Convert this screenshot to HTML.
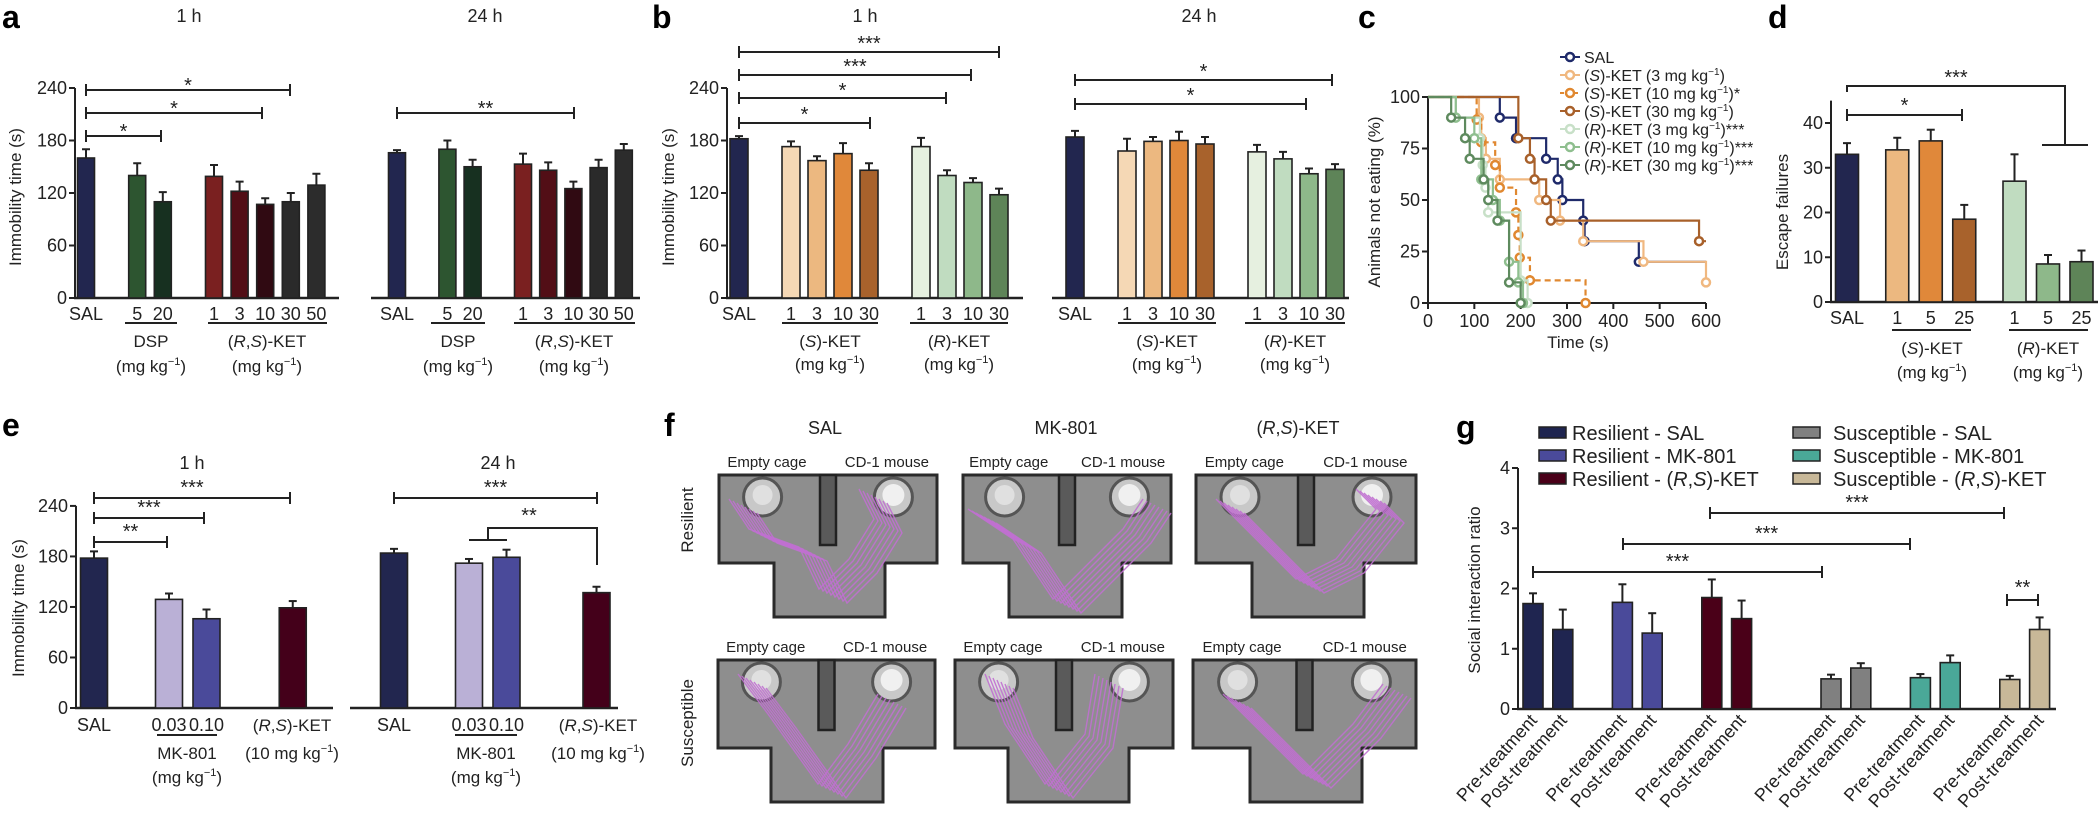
<!DOCTYPE html>
<html><head><meta charset="utf-8"><style>
html,body{margin:0;padding:0;background:#fff}
svg{display:block;font-family:"Liberation Sans",sans-serif}
</style></head><body>
<svg id="fig" width="2100" height="820" viewBox="0 0 2100 820" xmlns="http://www.w3.org/2000/svg">
<g id="static" fill="#222" font-size="17">
<g font-weight="bold" font-size="32" fill="#000">
<text x="2" y="28">a</text>
<text x="652" y="28">b</text>
<text x="1358" y="28">c</text>
<text x="1768" y="28">d</text>
<text x="2" y="436">e</text>
<text x="664" y="436">f</text>
<text x="1456" y="438">g</text>
</g>
<g text-anchor="middle" font-size="18">
<text x="189" y="22">1 h</text>
<text x="485" y="22">24 h</text>
<text x="865" y="22">1 h</text>
<text x="1199" y="22">24 h</text>
<text x="192" y="469">1 h</text>
<text x="498" y="469">24 h</text>
<text x="825" y="434">SAL</text>
<text x="1066" y="434">MK-801</text>
<text x="1298" y="434">(<tspan font-style="italic">R</tspan>,<tspan font-style="italic">S</tspan>)-KET</text>
</g>
<g text-anchor="middle" font-size="17">
<text transform="translate(21,197) rotate(-90)">Immobility time (s)</text>
<text transform="translate(674,197) rotate(-90)">Immobility time (s)</text>
<text transform="translate(1380,202) rotate(-90)">Animals not eating (%)</text>
<text transform="translate(1788,212) rotate(-90)">Escape failures</text>
<text transform="translate(24,608) rotate(-90)">Immobility time (s)</text>
<text transform="translate(1480,590) rotate(-90)">Social interaction ratio</text>
<text transform="translate(693,520) rotate(-90)">Resilient</text>
<text transform="translate(693,723) rotate(-90)">Susceptible</text>
<text x="1578" y="348">Time (s)</text>
</g>
<g text-anchor="middle" font-size="17">
<line x1="125" y1="323" x2="177" y2="323" stroke="#222" stroke-width="2"/>
<line x1="208" y1="323" x2="327" y2="323" stroke="#222" stroke-width="2"/>
<text x="151" y="347">DSP</text><text x="151" y="372">(mg kg<tspan font-size="11" dy="-7">−1</tspan><tspan dy="7">)</tspan></text>
<text x="267" y="347">(<tspan font-style="italic">R</tspan>,<tspan font-style="italic">S</tspan>)-KET</text><text x="267" y="372">(mg kg<tspan font-size="11" dy="-7">−1</tspan><tspan dy="7">)</tspan></text>
<line x1="431" y1="323" x2="485" y2="323" stroke="#222" stroke-width="2"/>
<line x1="514" y1="323" x2="635" y2="323" stroke="#222" stroke-width="2"/>
<text x="458" y="347">DSP</text><text x="458" y="372">(mg kg<tspan font-size="11" dy="-7">−1</tspan><tspan dy="7">)</tspan></text>
<text x="574" y="347">(<tspan font-style="italic">R</tspan>,<tspan font-style="italic">S</tspan>)-KET</text><text x="574" y="372">(mg kg<tspan font-size="11" dy="-7">−1</tspan><tspan dy="7">)</tspan></text>
<line x1="782" y1="323" x2="878" y2="323" stroke="#222" stroke-width="2"/>
<line x1="910" y1="323" x2="1008" y2="323" stroke="#222" stroke-width="2"/>
<text x="830" y="347">(<tspan font-style="italic">S</tspan>)-KET</text><text x="830" y="370">(mg kg<tspan font-size="11" dy="-7">−1</tspan><tspan dy="7">)</tspan></text>
<text x="959" y="347">(<tspan font-style="italic">R</tspan>)-KET</text><text x="959" y="370">(mg kg<tspan font-size="11" dy="-7">−1</tspan><tspan dy="7">)</tspan></text>
<line x1="1118" y1="323" x2="1216" y2="323" stroke="#222" stroke-width="2"/>
<line x1="1245" y1="323" x2="1345" y2="323" stroke="#222" stroke-width="2"/>
<text x="1167" y="347">(<tspan font-style="italic">S</tspan>)-KET</text><text x="1167" y="370">(mg kg<tspan font-size="11" dy="-7">−1</tspan><tspan dy="7">)</tspan></text>
<text x="1295" y="347">(<tspan font-style="italic">R</tspan>)-KET</text><text x="1295" y="370">(mg kg<tspan font-size="11" dy="-7">−1</tspan><tspan dy="7">)</tspan></text>
<line x1="1892" y1="330" x2="1971" y2="330" stroke="#222" stroke-width="2"/>
<line x1="2009" y1="330" x2="2088" y2="330" stroke="#222" stroke-width="2"/>
<text x="1932" y="354">(<tspan font-style="italic">S</tspan>)-KET</text><text x="1932" y="378">(mg kg<tspan font-size="11" dy="-7">−1</tspan><tspan dy="7">)</tspan></text>
<text x="2048" y="354">(<tspan font-style="italic">R</tspan>)-KET</text><text x="2048" y="378">(mg kg<tspan font-size="11" dy="-7">−1</tspan><tspan dy="7">)</tspan></text>
<line x1="157" y1="735" x2="217" y2="735" stroke="#222" stroke-width="2"/>
<line x1="455" y1="735" x2="517" y2="735" stroke="#222" stroke-width="2"/>
<text x="187" y="759">MK-801</text><text x="187" y="783">(mg kg<tspan font-size="11" dy="-7">−1</tspan><tspan dy="7">)</tspan></text>
<text x="486" y="759">MK-801</text><text x="486" y="783">(mg kg<tspan font-size="11" dy="-7">−1</tspan><tspan dy="7">)</tspan></text>
<text x="292" y="731">(<tspan font-style="italic">R</tspan>,<tspan font-style="italic">S</tspan>)-KET</text><text x="292" y="759">(10 mg kg<tspan font-size="11" dy="-7">−1</tspan><tspan dy="7">)</tspan></text>
<text x="598" y="731">(<tspan font-style="italic">R</tspan>,<tspan font-style="italic">S</tspan>)-KET</text><text x="598" y="759">(10 mg kg<tspan font-size="11" dy="-7">−1</tspan><tspan dy="7">)</tspan></text>
</g>
<g font-size="20">
<rect x="1539" y="427" width="27" height="11" fill="#1f2550" stroke="#222" stroke-width="1.5"/><text x="1572" y="440">Resilient - SAL</text>
<rect x="1539" y="450" width="27" height="11" fill="#4a4a9a" stroke="#222" stroke-width="1.5"/><text x="1572" y="463">Resilient - MK-801</text>
<rect x="1539" y="473" width="27" height="11" fill="#4a0018" stroke="#222" stroke-width="1.5"/><text x="1572" y="486">Resilient - (<tspan font-style="italic">R</tspan>,<tspan font-style="italic">S</tspan>)-KET</text>
<rect x="1793" y="427" width="27" height="11" fill="#808080" stroke="#222" stroke-width="1.5"/><text x="1833" y="440">Susceptible - SAL</text>
<rect x="1793" y="450" width="27" height="11" fill="#4aa898" stroke="#222" stroke-width="1.5"/><text x="1833" y="463">Susceptible - MK-801</text>
<rect x="1793" y="473" width="27" height="11" fill="#c8b898" stroke="#222" stroke-width="1.5"/><text x="1833" y="486">Susceptible - (<tspan font-style="italic">R</tspan>,<tspan font-style="italic">S</tspan>)-KET</text>
</g>
</g>
<g id="panelF"></g>
<g id="charts"></g>
</svg>
<script>
var NS="http://www.w3.org/2000/svg";
var root=document.getElementById('charts');
function el(tag,attrs,parent){var e=document.createElementNS(NS,tag);for(var k in attrs)e.setAttribute(k,attrs[k]);(parent||root).appendChild(e);return e;}
function t(x,y,s,anchor,size,parent){var e=el('text',{x:x,y:y,'text-anchor':anchor||'middle','font-size':size||17,fill:'#222'},parent);e.textContent=s;return e;}

// ---------- DATA ----------
var aCats=["SAL","5","20","1","3","10","30","50"];
var a1hVals=[160,140,110,139,122,107,110,129];
var a1hErr=[10,14,11,13,11,7,10,13];
var a24hVals=[166,170,150,153,146,125,149,169];
var a24hErr=[3,10,8,12,9,8,9,7];
var aCols=["#22264f","#2d5530","#173020","#7a2020","#520e16","#300a12","#2a2a2a","#2c2c2c"];
var bCats=["SAL","1","3","10","30","1","3","10","30"];
var b1hVals=[182,173,157,165,146,173,140,132,118];
var b1hErr=[3,6,5,12,8,10,6,5,7];
var b24hVals=[184,168,179,180,176,167,159,142,147];
var b24hErr=[7,14,5,10,8,8,8,6,6];
var bCols=["#22264f","#f5d8b5","#ecb880","#e0883a","#a8622c","#e6f0e0","#c0dcc0","#8eb88a","#5e8458"];
var dCats=["SAL","1","5","25","1","5","25"];
var dVals=[33,34,36,18.5,27,8.5,9];
var dErr=[2.5,2.7,2.5,3.2,6,2,2.5];
var dCols=["#22264f","#ecb880","#e0883a","#a8622c","#c0dcc0","#8eb88a","#5e8458"];
var eCats=["SAL","0.03","0.10",""];
var e1hVals=[178,129,106,119];
var e1hErr=[8,7,11,8];
var e24hVals=[184,172,179,137];
var e24hErr=[5,5,9,7];
var eCols=["#22264f","#bab0d6","#4a4a9a","#44001a"];
var gCats=["Pre-treatment","Post-treatment","Pre-treatment","Post-treatment","Pre-treatment","Post-treatment","Pre-treatment","Post-treatment","Pre-treatment","Post-treatment","Pre-treatment","Post-treatment"];
var gVals=[1.75,1.32,1.77,1.26,1.85,1.5,0.5,0.68,0.52,0.77,0.49,1.32];
var gErr=[0.17,0.33,0.3,0.33,0.3,0.3,0.07,0.08,0.06,0.12,0.06,0.2];
var gCols=["#1f2550","#1f2550","#4a4a9a","#4a4a9a","#4a0018","#4a0018","#808080","#808080","#4aa898","#4aa898","#c8b898","#c8b898"];
var abTicks=[0,60,120,180,240];
var dTicks=[0,10,20,30,40];
var gTicks=[0,1,2,3,4];
var cYTicks=[0,25,50,75,100];
var cXTicks=[0,100,200,300,400,500,600];
var cNames=["SAL","(S)-KET (3 mg kg-1)","(S)-KET (10 mg kg-1)*","(S)-KET (30 mg kg-1)","(R)-KET (3 mg kg-1)***","(R)-KET (10 mg kg-1)***","(R)-KET (30 mg kg-1)***"];
var salT=[155,190,255,280,290,335,338,455], salS=[90,80,70,60,50,40,30,20];
var s3T=[110,115,125,155,240,285,335,465,600], s3S=[90,80,70,60,50,40,30,20,10];
var s10T=[105,115,145,155,190,195,198,220,340], s10S=[89,78,67,56,44,33,22,11,0];
var s30T=[195,220,230,255,265,585], s30S=[80,70,60,50,40,30];
var r3T=[60,112,118,124,130,200,215], r3S=[90,80,67,56,44,11,0];
var r10T=[60,100,115,140,155,175,195,205], r10S=[90,80,60,50,40,20,10,0];
var r30T=[50,80,90,120,130,150,175,200], r30S=[90,80,70,60,50,40,10,0];
var cCols=["#1f2a6a","#f0b880","#e08830","#a8602a","#c8e0c8","#8fbf8f","#5e8a5e"];

// ---------- helpers ----------
function slotScale(x0,step,slots){return function(i){return x0+step*slots[i];};}
function linScale(p0,ppu){return function(v){return p0-v*ppu;};}
function yAxis(x,yS,ticks,top,name){
  var g=el('g',{});
  
  
  el('line',{x1:x,y1:yS(0)+1,x2:x,y2:yS(top),stroke:'#222','stroke-width':2},g);
  ticks.forEach(function(v){
    el('line',{x1:x-6,y1:yS(v),x2:x,y2:yS(v),stroke:'#222','stroke-width':2},g);
    t(x-8,yS(v)+6,String(v),'end',18,g);
  });
}
function baseline(x1,x2,y,name){var l=el('line',{x1:x1,y1:y,x2:x2,y2:y,stroke:'#222','stroke-width':2.5});}
function bars(name,xS,yS,vals,errs,cols,w,cats,labY){
  var g=el('g',{});
  
  
  vals.forEach(function(v,i){
    var x=xS(i),y=yS(v),y0=yS(0),ye=yS(v+errs[i]);
    el('line',{x1:x,y1:y,x2:x,y2:ye,stroke:'#222','stroke-width':2},g);
    el('line',{x1:x-4,y1:ye,x2:x+4,y2:ye,stroke:'#222','stroke-width':2},g);
    var r=el('rect',{x:x-w/2,y:y,width:w,height:y0-y,fill:cols[i],stroke:'#222','stroke-width':1.6},g);
    
    
    if(cats&&cats[i])t(x,labY,cats[i],'middle',18,g);
  });
}
function bracket(x1,x2,y,label,ty){
  var g=el('g',{stroke:'#222','stroke-width':2,fill:'none'});
  
  
  el('line',{x1:x1,y1:y,x2:x2,y2:y},g);
  el('line',{x1:x1,y1:y-6,x2:x1,y2:y+6},g);
  el('line',{x1:x2,y1:y-6,x2:x2,y2:y+6},g);
  var s=t((x1+x2)/2,ty||y-4,label,'middle',20,g);s.setAttribute('stroke','none');
}

// ---------- panel a ----------
var aY=linScale(298,0.875);
var aX1=slotScale(86,25.6,[0,2,3,5,6,7,8,9]);
var aX2=slotScale(397,25.2,[0,2,3,5,6,7,8,9]);
yAxis(75,aY,abTicks,240,'a-y-axis');
baseline(74,339,aY(0),'a-1h-baseline');baseline(371,640,aY(0),'a-24h-baseline');
bars('a-1h',aX1,aY,a1hVals,a1hErr,aCols,17,aCats,320);
bars('a-24h',aX2,aY,a24hVals,a24hErr,aCols,17,aCats,320);
bracket(aX1(0),290,90,'*',92);bracket(aX1(0),262,113,'*',115);bracket(aX1(0),161,136,'*',138);
bracket(aX2(0),574,113,'**',115);

// ---------- panel b ----------
var bX1=slotScale(739,26,[0,2,3,4,5,7,8,9,10]);
var bX2=slotScale(1075,26,[0,2,3,4,5,7,8,9,10]);
yAxis(727,aY,abTicks,240,'b-y-axis');
baseline(726,1023,aY(0),'b-1h-baseline');baseline(1052,1349,aY(0),'b-24h-baseline');
bars('b-1h',bX1,aY,b1hVals,b1hErr,bCols,18,bCats,320);
bars('b-24h',bX2,aY,b24hVals,b24hErr,bCols,18,bCats,320);
bracket(bX1(0),999,52,'***',50);bracket(bX1(0),971,75,'***',73);bracket(bX1(0),946,98,'*',97);bracket(bX1(0),870,123,'*',121);
bracket(bX2(0),1332,80,'*',78);bracket(bX2(0),1306,104,'*',102);

// ---------- panel c ----------
var cX=function(v){return 1428+v*(278/600);};
var cY=linScale(303,2.06);
(function(){
  var g=el('g',{});
  
  
  el('line',{x1:cX(0),y1:cY(0),x2:cX(0),y2:cY(100),stroke:'#222','stroke-width':2},g);
  el('line',{x1:cX(0),y1:cY(0),x2:cX(600),y2:cY(0),stroke:'#222','stroke-width':2},g);
  cYTicks.forEach(function(v){el('line',{x1:cX(0)-6,y1:cY(v),x2:cX(0),y2:cY(v),stroke:'#222','stroke-width':2},g);t(cX(0)-8,cY(v)+6,String(v),'end',18,g);});
  cXTicks.forEach(function(v){el('line',{x1:cX(v),y1:cY(0),x2:cX(v),y2:cY(0)+6,stroke:'#222','stroke-width':2},g);t(cX(v),cY(0)+24,String(v),'middle',18,g);});
})();
var cSeries=[[salT,salS,600],[s3T,s3S,600],[s10T,s10S,340],[s30T,s30S,600],[r3T,r3S,215],[r10T,r10S,205],[r30T,r30S,200]];
cSeries.forEach(function(sr,k){
  var T=sr[0],S=sr[1],d='M'+cX(0)+','+cY(100),prev=100;
  T.forEach(function(tt,i){d+=' L'+cX(tt)+','+cY(prev)+' L'+cX(tt)+','+cY(S[i]);prev=S[i];});
  d+=' L'+cX(sr[2])+','+cY(prev);
  var p=el('path',{d:d,fill:'none',stroke:cCols[k],'stroke-width':2.2,'stroke-dasharray':k==2?'6,4':'none'});
  
  
  T.forEach(function(tt,i){var m=el('circle',{cx:cX(tt),cy:cY(S[i]),r:4,fill:'#fff',stroke:cCols[k],'stroke-width':2.5});
    
    });
  var lg=el('g',{});
  
  
  var ly=57+k*18;
  el('line',{x1:1560,y1:ly,x2:1580,y2:ly,stroke:cCols[k],'stroke-width':2,'stroke-dasharray':k==2?'4,3':'none'},lg);
  el('circle',{cx:1570,cy:ly,r:4,fill:'#fff',stroke:cCols[k],'stroke-width':2.5},lg);
  var nm=cNames[k],tx=el('text',{x:1584,y:ly+6,'font-size':16,fill:'#222'},lg);
  var mm=nm.match(/^\((S|R)\)(-KET \()(\d+ mg kg)-1\)(\**)$/);
  if(!mm){tx.textContent=nm;}else{
    tx.appendChild(document.createTextNode('('));
    var i1=el('tspan',{'font-style':'italic'},tx);i1.textContent=mm[1];
    tx.appendChild(document.createTextNode(')'+mm[2]+mm[3]));
    var sp=el('tspan',{'font-size':10,dy:-6},tx);sp.textContent='−1';
    var rest=el('tspan',{dy:6},tx);rest.textContent=')'+mm[4];
  }
});

// ---------- panel d ----------
var dY=linScale(302,4.475);
var dX=slotScale(1847,33.5,[0,1.5,2.5,3.5,5,6,7]);
yAxis(1831,dY,dTicks,45,'d-y-axis');
baseline(1830,2098,dY(0),'d-baseline');
bars('d',dX,dY,dVals,dErr,dCols,23,dCats,324);
bracket(dX(0),1962,115,'*',112);
(function(){var g=el('g',{stroke:'#222','stroke-width':2,fill:'none'});


el('path',{d:'M'+dX(0)+',92 L'+dX(0)+',86 L2065,86 L2065,145 M2042,145 L2088,145'},g);
var s=t(1956,84,'***','middle',20,g);s.setAttribute('stroke','none');})();

// ---------- panel e ----------
var eY=linScale(708,0.842);
var eX1=slotScale(94,37.5,[0,2,3,5.3]);
var eX2=slotScale(394,37.5,[0,2,3,5.4]);
yAxis(76,eY,abTicks,240,'e-y-axis');
baseline(75,333,eY(0),'e-1h-baseline');baseline(350,618,eY(0),'e-24h-baseline');
bars('e-1h',eX1,eY,e1hVals,e1hErr,eCols,27,eCats,731);
bars('e-24h',eX2,eY,e24hVals,e24hErr,eCols,27,eCats,731);
bracket(eX1(0),290,498,'***',494);bracket(eX1(0),204,518,'***',514);bracket(eX1(0),167,542,'**',538);
bracket(eX2(0),597,498,'***',494);
(function(){var g=el('g',{stroke:'#222','stroke-width':2,fill:'none'});


el('path',{d:'M469,540 L507,540 M488,540 L488,528 L597,528 L597,565'},g);
var s=t(529,522,'**','middle',20,g);s.setAttribute('stroke','none');})();

// ---------- panel g ----------
var gY=linScale(709,60.25);
var gX=slotScale(1533,29.8,[0,1,3,4,6,7,10,11,13,14,16,17]);
yAxis(1518,gY,gTicks,4,'g-y-axis');
baseline(1517,2056,gY(0),'g-baseline');
bars('g',gX,gY,gVals,gErr,gCols,20,null,0);
gCats.forEach(function(c,i){var x=gX(i)+5,y=gY(0)+12;var tx=el('text',{x:x,y:y,'text-anchor':'end','font-size':18,fill:'#222',transform:'rotate(-48 '+x+' '+y+')'});tx.textContent=c;
  
  });
bracket(gX(0),1822,572,'***',568);bracket(1623,1910,544,'***',540);bracket(1710,2004,513,'***',509);bracket(2007,2038,600,'**',594);

// ---------- panel f (decorative arena images) ----------
var fg=document.getElementById('panelF');
var arenas=[[719,475,218,774,111,'SAL resilient'],[963,475,208,1009,113,'MK-801 resilient'],[1196,475,220,1252,112,'KET resilient'],
            [718,660,217,771,112,'SAL susceptible'],[955,660,218,1008,121,'MK-801 susceptible'],[1193,660,223,1250,112,'KET susceptible']];
var tracks=[[[20,30],[40,60],[90,78],[110,120],[140,90],[165,50],[150,20]],
            [[15,40],[60,70],[100,130],[130,100],[170,60],[190,30]],
            [[30,30],[70,70],[110,110],[150,90],[190,40],[170,20]],
            [[30,20],[60,60],[110,130],[140,90],[170,40]],
            [[40,20],[60,70],[100,130],[140,80],[150,20]],
            [[40,40],[80,80],[120,120],[170,70],[200,30]]];
arenas.forEach(function(a,k){
  var x=a[0],y=a[1],w=a[2],ix=a[3],iw=a[4];
  var g=el('g',{},fg);
  
  
  var d='M'+x+','+y+' h'+w+' v88 H'+(ix+iw)+' v54 H'+ix+' v-54 H'+x+' Z';
  el('path',{d:d,fill:'#8e8e8e',stroke:'#2a2a2a','stroke-width':3},g);
  el('rect',{x:x+w/2-8,y:y,width:16,height:70,fill:'#5a5a5a',stroke:'#222','stroke-width':2.5},g);
  el('circle',{cx:x+w*0.2,cy:y+22,r:19,fill:'#c8c8c8',stroke:'#555','stroke-width':3},g);
  el('circle',{cx:x+w*0.2,cy:y+20,r:10,fill:'#e0e0e0'},g);
  el('circle',{cx:x+w*0.8,cy:y+22,r:19,fill:'#c8c8c8',stroke:'#555','stroke-width':3},g);
  el('circle',{cx:x+w*0.8,cy:y+20,r:11,fill:'#f0f0f0'},g);
  var pts=tracks[k];
  for(var r=0;r<8;r++){var d2='M';pts.forEach(function(p,i){d2+=(i?' L':'')+(x+p[0]+r*4-10)+','+(y+p[1]+r*2-6);});
    el('path',{d:d2,fill:'none',stroke:'#c070d0','stroke-width':1.4,opacity:0.9},g);}
  var lb=el('g',{'font-size':15,fill:'#222'},g);
  t(x+w*0.22,y-8,'Empty cage','middle',15,lb);
  t(x+w*0.77,y-8,'CD-1 mouse','middle',15,lb);
});
</script>
</body></html>
